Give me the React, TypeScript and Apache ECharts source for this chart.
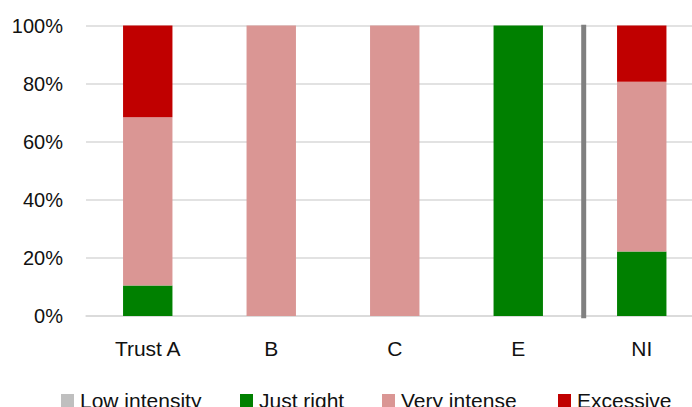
import React, { useEffect, useRef } from "react";
import * as echarts from "echarts";

const categories = ["Trust A", "B", "C", "E", "NI"];
const seriesNames = ["Low intensity", "Just right", "Very intense", "Excessive"];
const lowIntensity = [0, 0, 0, 0, 0];
const justRight = [10.5, 0, 0, 100, 22.2];
const veryIntense = [57.9, 100, 100, 0, 58.4];
const excessive = [31.6, 0, 0, 0, 19.4];
const yTicks = [0, 20, 40, 60, 80, 100];
const separatorPos = 3.53;

const colors = ["#bfbfbf", "#008000", "#da9694", "#c00000"];
const legendLefts = [61, 240, 382, 558];

export default function App() {
  const ref = useRef<HTMLDivElement>(null);
  useEffect(() => {
    if (!ref.current) return;
    const chart = echarts.init(ref.current, undefined, { renderer: "svg" });
    const values = [lowIntensity, justRight, veryIntense, excessive];
    const bars = seriesNames.map((name, i) => ({
      name,
      type: "bar",
      stack: "total",
      data: values[i],
      barWidth: "40%",
      itemStyle: { color: colors[i] },
      xAxisIndex: 0,
      yAxisIndex: 0,
    }));
    const legends = seriesNames.map((name, i) => ({
      data: [name],
      left: legendLefts[i],
      top: 390,
      padding: 0,
      itemWidth: 13,
      itemHeight: 13,
      itemGap: 6,
      icon: "rect",
      textStyle: { fontSize: 21, lineHeight: 21, color: "#111", padding: [0, 0, 0, 1] },
    }));
    chart.setOption({
      animation: false,
      backgroundColor: "#ffffff",
      textStyle: { fontFamily: "'Liberation Sans', Arial, sans-serif" },
      grid: { left: 86, top: 25.5, height: 290.5, width: 617.5, outerBoundsMode: "none", containLabel: false },
      legend: legends,
      xAxis: [
        {
          type: "category",
          data: categories,
          axisLine: { show: true, lineStyle: { color: "#d9d9d9", width: 1.5 } },
          axisTick: { show: false },
          axisLabel: { fontSize: 21, color: "#111", margin: 22 },
        },
        {
          type: "value",
          min: -0.5,
          max: 4.5,
          show: false,
        },
      ],
      yAxis: {
        type: "value",
        min: yTicks[0],
        max: yTicks[yTicks.length - 1],
        interval: 20,
        axisLine: { show: false },
        axisTick: { show: false },
        splitLine: { lineStyle: { color: "#d9d9d9", width: 1.5 } },
        axisLabel: { fontSize: 20, color: "#111", margin: 23, formatter: "{value}%" },
      },
      series: [
        ...bars,
        {
          type: "line",
          xAxisIndex: 1,
          yAxisIndex: 0,
          data: [
            [separatorPos, -0.8],
            [separatorPos, 100.3],
          ],
          symbol: "none",
          clip: false,
          silent: true,
          lineStyle: { color: "#808080", width: 5 },
        },
      ],
    });
    return () => chart.dispose();
  }, []);
  return <div ref={ref} style={{ width: 692, height: 407, position: "absolute", left: 0, top: 0 }} />;
}
